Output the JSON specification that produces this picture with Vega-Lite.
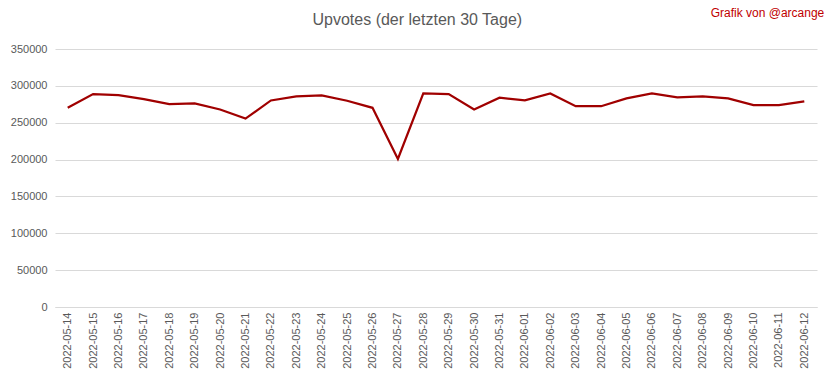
{
  "$schema": "https://vega.github.io/schema/vega-lite/v6.json",
  "autosize": {"type": "fit", "contains": "padding"},
  "width": 832,
  "height": 379,
  "padding": {"left": 10, "top": 7, "right": 8, "bottom": 10},
  "background": "white",
  "title": {
    "text": "Upvotes (der letzten 30 Tage)",
    "anchor": "middle",
    "frame": "bounds",
    "font": "Liberation Sans",
    "fontSize": 16,
    "fontWeight": "normal",
    "color": "#595959",
    "offset": -21
  },
  "config": {
    "view": {"stroke": null},
    "axis": {"labelFont": "Liberation Sans", "labelColor": "#595959", "labelFontSize": 11}
  },
  "data": {
    "values": [
      {"date": "2022-05-14", "upvotes": 270200},
      {"date": "2022-05-15", "upvotes": 288900},
      {"date": "2022-05-16", "upvotes": 287500},
      {"date": "2022-05-17", "upvotes": 282000},
      {"date": "2022-05-18", "upvotes": 275200},
      {"date": "2022-05-19", "upvotes": 276100},
      {"date": "2022-05-20", "upvotes": 267900},
      {"date": "2022-05-21", "upvotes": 255600},
      {"date": "2022-05-22", "upvotes": 280200},
      {"date": "2022-05-23", "upvotes": 285700},
      {"date": "2022-05-24", "upvotes": 287100},
      {"date": "2022-05-25", "upvotes": 279800},
      {"date": "2022-05-26", "upvotes": 270200},
      {"date": "2022-05-27", "upvotes": 200800},
      {"date": "2022-05-28", "upvotes": 289800},
      {"date": "2022-05-29", "upvotes": 288900},
      {"date": "2022-05-30", "upvotes": 267900},
      {"date": "2022-05-31", "upvotes": 283900},
      {"date": "2022-06-01", "upvotes": 280200},
      {"date": "2022-06-02", "upvotes": 289800},
      {"date": "2022-06-03", "upvotes": 272400},
      {"date": "2022-06-04", "upvotes": 272400},
      {"date": "2022-06-05", "upvotes": 283000},
      {"date": "2022-06-06", "upvotes": 289800},
      {"date": "2022-06-07", "upvotes": 284300},
      {"date": "2022-06-08", "upvotes": 285700},
      {"date": "2022-06-09", "upvotes": 283000},
      {"date": "2022-06-10", "upvotes": 273800},
      {"date": "2022-06-11", "upvotes": 273800},
      {"date": "2022-06-12", "upvotes": 278900}
    ]
  },
  "layer": [
    {
      "mark": {"type": "line", "color": "#a00000", "strokeWidth": 2.25},
      "encoding": {
        "x": {
          "field": "date", "type": "ordinal", "title": null,
          "axis": {"labelAngle": -90, "ticks": false, "domain": true, "domainColor": "#d9d9d9", "labelPadding": 5, "grid": false}
        },
        "y": {
          "field": "upvotes", "type": "quantitative", "title": null,
          "scale": {"domain": [0, 350000], "nice": false},
          "axis": {"values": [0, 50000, 100000, 150000, 200000, 250000, 300000, 350000], "format": "d", "domain": false, "ticks": false, "gridColor": "#d9d9d9", "labelPadding": 8}
        }
      }
    },
    {
      "data": {"values": [{"label": "Grafik von @arcange"}]},
      "mark": {"type": "text", "color": "#c00000", "font": "Liberation Sans", "fontSize": 12, "align": "right", "baseline": "middle", "dx": 20, "dy": -36},
      "encoding": {
        "x": {
          "datum": "2022-06-12", "type": "ordinal", "title": null,
          "axis": {"labelAngle": -90, "ticks": false, "domain": true, "domainColor": "#d9d9d9", "labelPadding": 5, "grid": false}
        },
        "y": {
          "datum": 350000, "type": "quantitative", "title": null,
          "scale": {"domain": [0, 350000], "nice": false},
          "axis": {"values": [0, 50000, 100000, 150000, 200000, 250000, 300000, 350000], "format": "d", "domain": false, "ticks": false, "gridColor": "#d9d9d9", "labelPadding": 8}
        },
        "text": {"field": "label"}
      }
    }
  ]
}
